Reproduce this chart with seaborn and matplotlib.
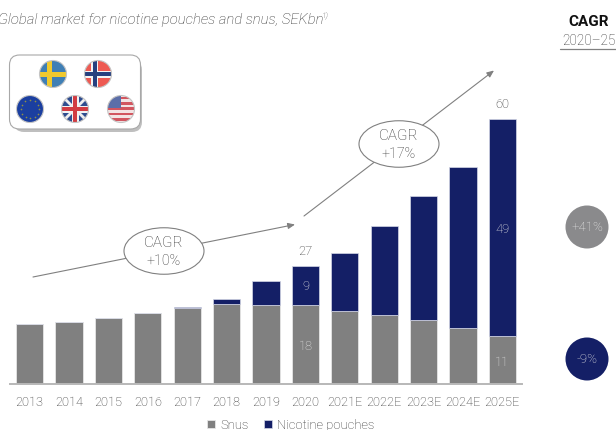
"""
plot.py
-------
Global market for nicotine pouches and snus, stacked bars with CAGR callouts.
"""

import matplotlib
matplotlib.use("Agg")
import numpy as np
import matplotlib.pyplot as plt
import seaborn as sns
from matplotlib.patches import Circle, Ellipse, FancyBboxPatch, Rectangle, Polygon

# ── Data ──────────────────────────────────────────────────────────────────
years = ["2013", "2014", "2015", "2016", "2017", "2018", "2019", "2020",
         "2021E", "2022E", "2023E", "2024E", "2025E"]
snus = [13.6, 14.1, 15.0, 16.0, 17.2, 18.1, 17.8, 17.9, 16.6, 15.7, 14.5, 12.7, 10.8]
pouches = [0.0, 0.0, 0.0, 0.0, 0.3, 1.1, 5.4, 8.9, 13.1, 20.1, 28.1, 36.4, 49.2]

GREY = "#808080"
NAVY = "#141f66"
TEXT = "#303030"
FONT = "Roboto"

W, H = 616, 431


def add_flag(ax, cx, cy, r, parts):
    """Draws a round flag from patches clipped to a circle."""
    clip = Circle((cx, cy), r, transform=ax.transData)
    for p in parts:
        p.set_clip_path(clip)
        ax.add_patch(p)
    ax.add_patch(Circle((cx, cy), r, fill=False, ec="#c4c4c4", lw=0.8, zorder=5))


def rect(x, y, w, h, color, z=3):
    return Rectangle((x, y), w, h, fc=color, ec="none", zorder=z)


def draw_flags(ax):
    r = 13.5
    # Sweden
    cx, cy = 53, 75
    add_flag(ax, cx, cy, r, [rect(cx - r, cy - r, 2 * r, 2 * r, "#3f7fb5"),
                             rect(cx - r, cy - 2.5, 2 * r, 5, "#f0c92e", 4),
                             rect(cx - 6, cy - r, 5, 2 * r, "#f0c92e", 4)])
    # Norway
    cx, cy = 98, 75
    add_flag(ax, cx, cy, r, [rect(cx - r, cy - r, 2 * r, 2 * r, "#ee5a52"),
                             rect(cx - r, cy - 3.5, 2 * r, 7, "#f4f4f4", 4),
                             rect(cx - 7, cy - r, 7, 2 * r, "#f4f4f4", 4),
                             rect(cx - r, cy - 2, 2 * r, 4, "#27407f", 4),
                             rect(cx - 5.5, cy - r, 4, 2 * r, "#27407f", 4)])
    # EU
    cx, cy = 30, 110
    add_flag(ax, cx, cy, r, [rect(cx - r, cy - r, 2 * r, 2 * r, "#1b3fa0")])
    ang = np.deg2rad(np.arange(0, 360, 30))
    ax.scatter(cx + 9 * np.cos(ang), cy + 9 * np.sin(ang), s=1.5, color="#8f8f45",
               linewidths=0, zorder=5)
    # UK
    cx, cy = 75, 110
    uk = [rect(cx - r, cy - r, 2 * r, 2 * r, "#2f4d8f")]
    for a, b, c, d in [(-r, -r, r, r), (-r, r, r, -r)]:
        uk.append(Polygon([(cx + a, cy + b - 2), (cx + c, cy + d - 2),
                           (cx + c, cy + d + 2), (cx + a, cy + b + 2)],
                          fc="#eeeeee", ec="none", zorder=3.5))
    uk += [rect(cx - r, cy - 3.5, 2 * r, 7, "#f2f2f2", 4),
           rect(cx - 3.5, cy - r, 7, 2 * r, "#f2f2f2", 4),
           rect(cx - r, cy - 2, 2 * r, 4, "#d23c42", 4.5),
           rect(cx - 2, cy - r, 4, 2 * r, "#d23c42", 4.5)]
    add_flag(ax, cx, cy, r, uk)
    # US
    cx, cy = 121, 110
    us = [rect(cx - r, cy - r, 2 * r, 2 * r, "#f3e3e3")]
    for k in range(5):
        us.append(rect(cx - r, cy - r + 1 + k * 5.4, 2 * r, 2.6, "#d2555f", 3.5))
    us.append(rect(cx - r, cy - r, r, 12, "#5b6ea8", 4))
    add_flag(ax, cx, cy, r, us)


def draw_cagr(ax, start, end, centre, label):
    ax.annotate("", xy=end, xytext=start, zorder=2,
                arrowprops=dict(arrowstyle="-|>,head_length=0.35,head_width=0.15",
                                color="#808080", lw=0.8, shrinkA=0, shrinkB=0))
    ax.add_patch(Ellipse(centre, 80, 46.5, fc="white", ec="#808080", lw=0.8, zorder=3))
    ax.text(centre[0], centre[1] - 9, "CAGR", ha="center", va="center",
            fontsize=11, color=TEXT, zorder=4)
    ax.text(centre[0], centre[1] + 9, label, ha="center", va="center",
            fontsize=10.3, color=TEXT, zorder=4)


def main():
    sns.set_theme(style="white")
    plt.rcParams["font.family"] = [FONT, "DejaVu Sans"]
    plt.rcParams["font.weight"] = "light"

    fig = plt.figure(figsize=(W / 100, H / 100), dpi=100, facecolor="white")

    # ── Bars ──────────────────────────────────────────────────────────── #
    # xlim -0.5..12.5 spans px 10..522, baseline sits at px 385
    ax = fig.add_axes([10 / W, 1 - 385 / H, 512 / W, 385 / H])
    sns.barplot(x=years, y=snus, color=GREY, saturation=1, width=0.69, ax=ax,
                label="Snus", edgecolor="#e6e6e6", linewidth=0.6)
    sns.barplot(x=years, y=pouches, bottom=snus, color=NAVY, saturation=1, width=0.69,
                ax=ax, label="Nicotine pouches", edgecolor="#d5d8e6", linewidth=0.5)
    ax.set_xlim(-0.5, 12.5)
    ax.set_ylim(0, 385 / 4.42)
    ax.patch.set_alpha(0)
    ax.set_yticks([])
    ax.set_xlabel("")
    ax.set_ylabel("")
    for side in ["top", "left", "right"]:
        ax.spines[side].set_visible(False)
    ax.spines["bottom"].set_color("#b8b8b8")
    ax.spines["bottom"].set_linewidth(1.4)
    ax.tick_params(axis="x", length=0, pad=8, labelsize=9.2, labelcolor=TEXT)

    # in-bar values for the labelled years
    for year, val, bottom in [("2020", 18, 0), ("2025E", 11, 0), ("2020", 9, 18), ("2025E", 49, 11)]:
        ax.text(years.index(year), bottom + val / 2 - 0.3, str(val),
                ha="center", va="center", fontsize=9.3, color="#e4e4e4")
    for year, total in [("2020", 27), ("2025E", 60)]:
        i = years.index(year)
        ax.text(i, snus[i] + pouches[i] + 1.9, str(total), ha="center", va="bottom",
                fontsize=9.3, color=TEXT)

    ax.legend(loc="upper center", bbox_to_anchor=(281 / 512, -0.0725), ncol=2, frameon=False,
              fontsize=9.4, handlelength=0.6, handleheight=0.6, handletextpad=0.4,
              columnspacing=1.2, labelcolor=TEXT, borderpad=0)

    # ── Overlay in pixel coordinates ──────────────────────────────────── #
    over = fig.add_axes([0, 0, 1, 1], zorder=5)
    over.set_xlim(0, W)
    over.set_ylim(H, 0)
    over.axis("off")

    over.text(-2, 20, "Global market for nicotine pouches and snus, SEKbn", style="italic",
              fontsize=10.75, color=TEXT, va="center", ha="left")
    over.text(322, 16, "1)", style="italic", fontsize=6, color=TEXT, va="center", ha="left")

    # flag box with a drop shadow
    over.add_patch(FancyBboxPatch((14, 61), 128, 72, boxstyle="round,pad=0,rounding_size=10",
                                  fc="#8c8c8c", ec="none", alpha=0.55, zorder=1))
    over.add_patch(FancyBboxPatch((9.5, 56), 131, 74, boxstyle="round,pad=0,rounding_size=10",
                                  fc="white", ec="#a8a8a8", lw=0.8, zorder=2))
    draw_flags(over)

    draw_cagr(over, (33, 278), (295, 225.5), (164, 252), "+10%")
    draw_cagr(over, (304, 217), (494, 71.5), (399, 145), "+17%")

    # CAGR column on the right
    over.text(589, 22, "CAGR", ha="center", va="center", fontsize=11, fontweight="bold",
              color="#111111")
    over.text(589, 41, "2020–25", ha="center", va="center", fontsize=9.8, color=TEXT)
    over.plot([560, 616], [50, 50], color="#808080", lw=0.9)
    for cy, fc, label in [(228, "#8a8a8c", "+41%"), (360, NAVY, "-9%")]:
        over.add_patch(Circle((587, cy), 21.5, fc=fc, ec="none"))
        over.text(587, cy, label, ha="center", va="center", fontsize=9.5, color="#e8e8e8")

    fig.savefig("out.png", dpi=100)
    plt.close(fig)


if __name__ == "__main__":
    main()
